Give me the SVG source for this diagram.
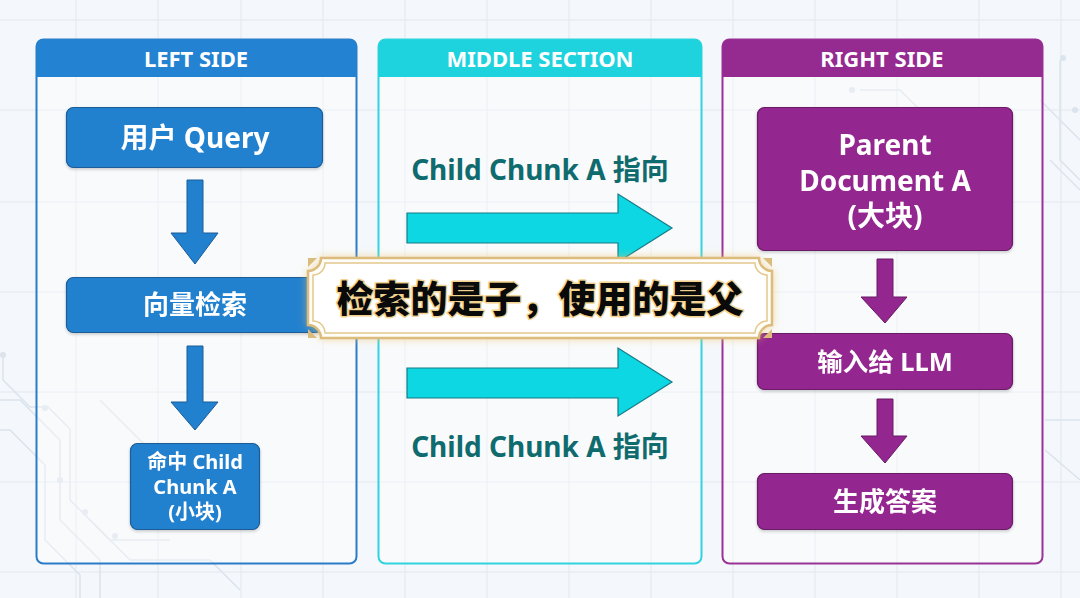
<svg xmlns="http://www.w3.org/2000/svg" width="1080" height="598" viewBox="0 0 1080 598">
<style>
.hdr{font-family:"Noto Sans","Noto Sans CJK SC",sans-serif;font-weight:700;font-size:22px;fill:#fff;text-anchor:middle}
.lbl{font-family:"Noto Sans","Noto Sans CJK SC",sans-serif;font-weight:700;fill:#fff;text-anchor:middle}
.mid{font-family:"Noto Sans","Noto Sans CJK SC",sans-serif;font-weight:700;font-size:28px;fill:#0f6b6e;text-anchor:middle}
.bn{fill:#2281cf;stroke:#1a5c98;stroke-width:1.2}
.pn{fill:#93268f;stroke:#6a1a66;stroke-width:1.2}
.ba{fill:#2281cf;stroke:#1a5c98;stroke-width:1}
.pa{fill:#93268f;stroke:#6a1a66;stroke-width:1}
.ca{fill:#0cd7e3;stroke:#167b86;stroke-width:1.2}
.grid{stroke:#e3e9f0;stroke-width:1}
.circ{stroke:#dbe3ec;stroke-width:1.5;fill:none}
</style>
<defs>
<filter id="sh" x="-10%" y="-10%" width="120%" height="130%">
<feDropShadow dx="0" dy="1.5" stdDeviation="1.5" flood-color="#000" flood-opacity="0.2"/>
</filter>
<filter id="glow" x="-10%" y="-30%" width="120%" height="160%">
<feDropShadow dx="0" dy="0" stdDeviation="4" flood-color="#f0c060" flood-opacity="0.55"/>
</filter>
</defs>
<rect width="1080" height="598" fill="#f4f7fb"/>
<g id="background">
<g class="grid">
<line x1="76" y1="0" x2="76" y2="598"/><line x1="158" y1="0" x2="158" y2="598"/><line x1="241" y1="0" x2="241" y2="598"/><line x1="323" y1="0" x2="323" y2="598"/><line x1="405" y1="0" x2="405" y2="598"/><line x1="487" y1="0" x2="487" y2="598"/><line x1="569" y1="0" x2="569" y2="598"/><line x1="651" y1="0" x2="651" y2="598"/><line x1="733" y1="0" x2="733" y2="598"/><line x1="815" y1="0" x2="815" y2="598"/><line x1="897" y1="0" x2="897" y2="598"/><line x1="979" y1="0" x2="979" y2="598"/><line x1="1061" y1="0" x2="1061" y2="598"/>
<line x1="0" y1="20" x2="1080" y2="20"/><line x1="0" y1="110" x2="1080" y2="110"/><line x1="0" y1="202" x2="1080" y2="202"/><line x1="0" y1="292" x2="1080" y2="292"/><line x1="0" y1="392" x2="1080" y2="392"/><line x1="0" y1="482" x2="1080" y2="482"/><line x1="0" y1="572" x2="1080" y2="572"/>
</g>
<g class="circ">
<path d="M0 400 H20 L60 440 V520 L100 560 V598"/>
<path d="M0 430 H10 L45 465 V540 L80 575 V598"/>
<path d="M3 352 V380 L30 407 H48 L70 429 V500 L110 540 H170"/>
<path d="M90 520 L130 560 H210 L240 590"/>
<path d="M100 400 L150 450 H230"/>
<path d="M860 90 H900 L940 130 V170"/>
<path d="M1040 100 L1080 140"/>
<path d="M1060 60 V160 L1080 180"/>
<path d="M1050 160 L1080 190"/>
<path d="M1045 420 H1080"/>
<path d="M1045 450 L1080 480"/>
</g>
<g fill="#dbe3ec">
<circle cx="3" cy="355" r="3"/><circle cx="45" cy="408" r="3"/><circle cx="60" cy="480" r="3"/><circle cx="85" cy="512" r="3"/><circle cx="115" cy="536" r="3"/><circle cx="1063" cy="58" r="3"/><circle cx="1075" cy="110" r="3"/><circle cx="852" cy="90" r="3"/>
</g>
</g>

<g id="left-panel">
<rect x="36.5" y="39.5" width="320" height="524" rx="7" fill="#fff" fill-opacity="0.35" stroke="#2a7cc7" stroke-width="2"/>
<path d="M36.5 77 V46.5 a7 7 0 0 1 7 -7 H349.5 a7 7 0 0 1 7 7 V77 Z" fill="#2383d2"/>
<text class="hdr" x="196" y="66.5">LEFT SIDE</text>
</g>
<g id="middle-panel">
<rect x="378.5" y="39.5" width="323" height="524" rx="7" fill="#fff" fill-opacity="0.35" stroke="#2fd4df" stroke-width="2"/>
<path d="M378.5 77 V46.5 a7 7 0 0 1 7 -7 H694.5 a7 7 0 0 1 7 7 V77 Z" fill="#1fd3de"/>
<text class="hdr" x="540" y="66.5">MIDDLE SECTION</text>
</g>
<g id="right-panel">
<rect x="722.5" y="39.5" width="320" height="524" rx="7" fill="#fff" fill-opacity="0.35" stroke="#9a3396" stroke-width="2"/>
<path d="M722.5 77 V46.5 a7 7 0 0 1 7 -7 H1035.5 a7 7 0 0 1 7 7 V77 Z" fill="#952a91"/>
<text class="hdr" x="882" y="66.5">RIGHT SIDE</text>
</g>

<g id="connectors">
<path class="ba" d="M187 180 H203 V233 H218 L195 264 L171 233 H187 Z"/>
<path class="ba" d="M187 346 H203 V402 H218 L195 430 L171 402 H187 Z"/>
<path class="ca" d="M407 213 H618 V194 L672 228 L618 262 V243 H407 Z"/>
<path class="ca" d="M407 368 H618 V348 L672 382 L618 416 V398 H407 Z"/>
<path class="pa" d="M877 259 H893 V297 H907 L885 323 L861 297 H877 Z"/>
<path class="pa" d="M877 399 H893 V436 H907 L885 463 L861 436 H877 Z"/>
</g>

<g id="node-query" filter="url(#sh)">
<rect class="bn" x="66.5" y="107.5" width="256" height="60" rx="7"/>
<text class="lbl" x="195" y="148" font-size="28">用户 Query</text>
</g>
<g id="node-vector" filter="url(#sh)">
<rect class="bn" x="66.5" y="277.5" width="256" height="55" rx="7"/>
<text class="lbl" x="195" y="314" font-size="26">向量检索</text>
</g>
<g id="node-child" filter="url(#sh)">
<rect class="bn" x="130.5" y="443.5" width="129" height="86" rx="7"/>
<text class="lbl" x="195" y="469" font-size="20">命中 Child</text>
<text class="lbl" x="195" y="494" font-size="20">Chunk A</text>
<text class="lbl" x="195" y="519" font-size="20">(小块)</text>
</g>
<g id="label-top">
<text class="mid" x="540" y="180">Child Chunk A 指向</text>
</g>
<g id="label-bottom">
<text class="mid" x="540" y="457">Child Chunk A 指向</text>
</g>
<g id="node-parent" filter="url(#sh)">
<rect class="pn" x="757.5" y="107.5" width="255" height="143" rx="7"/>
<text class="lbl" font-size="28"><tspan x="885" y="155">Parent</tspan><tspan x="885" y="191">Document A</tspan><tspan x="885" y="226">(大块)</tspan></text>
</g>
<g id="node-llm" filter="url(#sh)">
<rect class="pn" x="757.5" y="333.5" width="255" height="56" rx="7"/>
<text class="lbl" x="885" y="371" font-size="25.5">输入给 LLM</text>
</g>
<g id="node-answer" filter="url(#sh)">
<rect class="pn" x="757.5" y="473.5" width="255" height="56" rx="7"/>
<text class="lbl" x="885" y="511" font-size="26">生成答案</text>
</g>

<g id="banner">
<path d="M321 258 H759 A13 13 0 0 0 772 271 V325 A13 13 0 0 0 759 338 H321 A13 13 0 0 0 308 325 V271 A13 13 0 0 0 321 258 Z" fill="#fffdf7" stroke="#dcbc7c" stroke-width="2.5" filter="url(#glow)"/>
<path d="M325 263 H755 A12 12 0 0 0 767 275 V321 A12 12 0 0 0 755 333 H325 A12 12 0 0 0 313 321 V275 A12 12 0 0 0 325 263 Z" fill="#fff" stroke="#e3c88e" stroke-width="1.5"/>
<g fill="#dcbc7c">
<path d="M308 258 h9 l-9 9 Z"/><path d="M772 258 h-9 l9 9 Z"/><path d="M308 338 h9 l-9 -9 Z"/><path d="M772 338 h-9 l9 -9 Z"/>
</g>
<text x="540" y="313" text-anchor="middle" font-family="'Noto Sans CJK SC','Noto Sans',sans-serif" font-weight="900" font-size="37" fill="#0a0a0a" stroke="#f2d28e" stroke-width="3" paint-order="stroke" stroke-linejoin="round">检索的是子，使用的是父</text>
</g>
</svg>
